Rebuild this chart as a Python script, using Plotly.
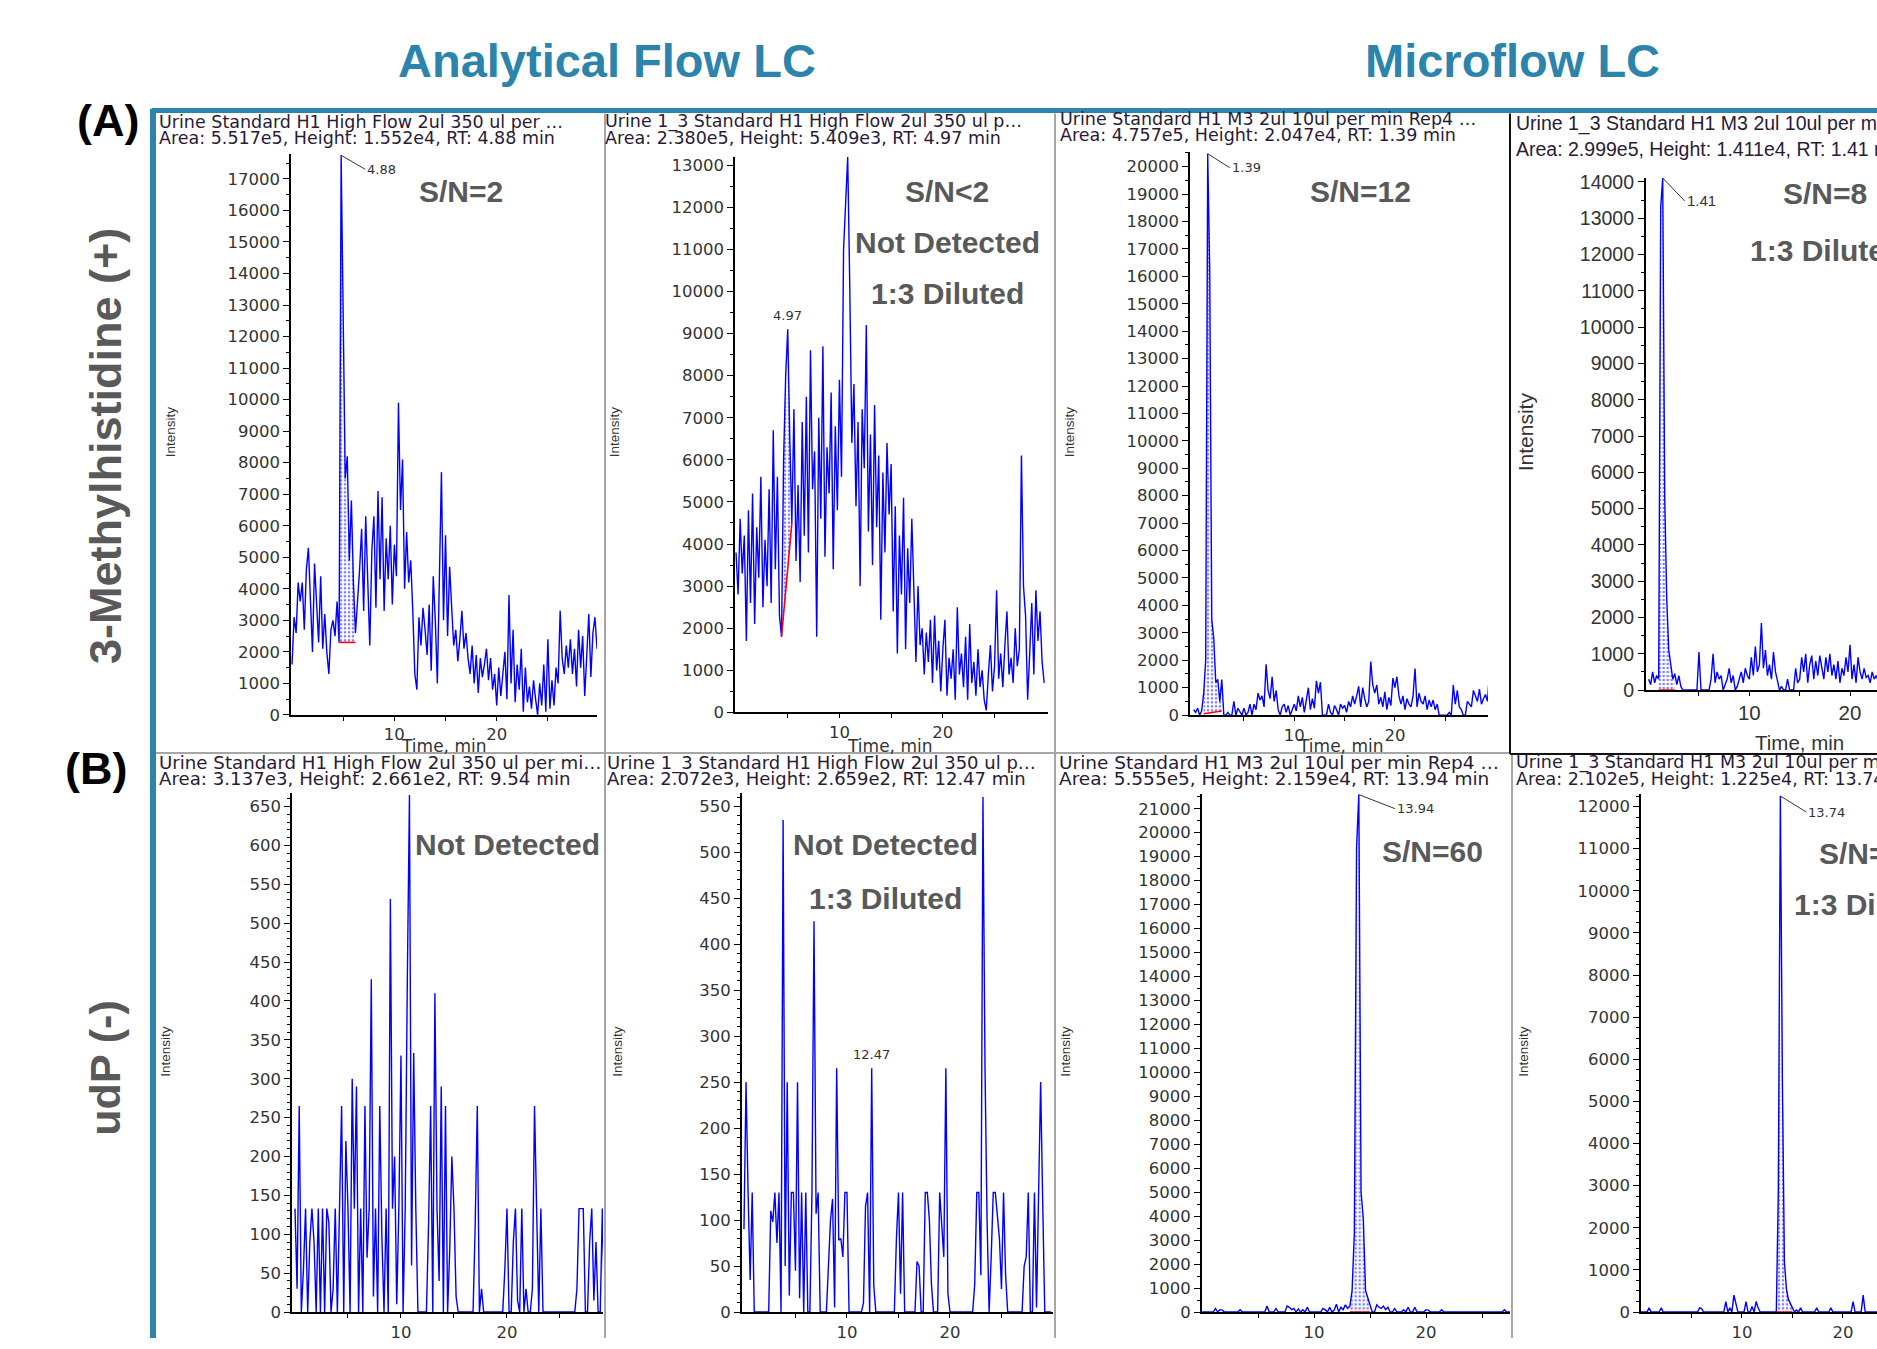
import plotly.graph_objects as go

W, H = 1877, 1349
SCAN_MIN = 0.2  # spacing of the digitised scans (minutes)

# ---------------- data (intensity, counts per second) ----------------
a1_intensity = [
    1600, 3100, 2600, 4200, 3600, 4200, 2700, 4600, 5300, 3700,
    2000, 4800, 3600, 2300, 4400, 2100, 3200, 2000, 1300, 2700,
    3000, 2500, 3600, 2300, 17750, 13000, 7500, 8200, 4900, 6800,
    4200, 2600, 3500, 4600, 5900, 3300, 6300, 4300, 2200, 5200,
    6300, 3400, 7100, 4300, 6900, 3300, 5600, 4300, 6000, 3500,
    5400, 4400, 9900, 6500, 8100, 4000, 5800, 4200, 4900, 3300,
    1300, 800, 3100, 2200, 3400, 2700, 1900, 3500, 1400, 4400,
    3000, 1000, 4900, 7700, 3000, 5700, 2500, 4700, 3400, 2200,
    2700, 1700, 2400, 3300, 2100, 2600, 1800, 1300, 2200, 1000,
    1900, 700, 1800, 1200, 1600, 2100, 1100, 1800, 800, 1300,
    300, 1500, 600, 1200, 2000, 500, 3800, 1000, 2700, 400,
    1600, 800, 2100, 100, 1500, 400, 900, 200, 1100, 500,
    0, 1000, 300, 1600, 100, 2400, 200, 1100, 300, 1500,
    1000, 3300, 1800, 1300, 2200, 1500, 2400, 1300, 2100, 900,
    2700, 1500, 2500, 600, 1900, 3200, 1200, 2600, 3100, 2100,
]
a2_intensity = [
    3800, 2800, 4600, 3300, 4200, 1700, 4800, 2600, 5200, 2100,
    4400, 3200, 5600, 2500, 4100, 3000, 5300, 2600, 6700, 3400,
    5600, 2300, 1800, 6000, 8000, 9100, 6500, 4500, 7200, 3600,
    5400, 3100, 6900, 4200, 7500, 3800, 8600, 5300, 6200, 1800,
    7000, 4600, 8700, 3700, 6300, 5200, 7600, 3400, 6800, 4800,
    7900, 5600, 11000, 12200, 13200, 10100, 6400, 7800, 4900, 6900,
    3000, 7200, 5800, 9200, 4300, 6600, 3500, 7300, 4400, 6100,
    2200, 5700, 3800, 6400, 4700, 5900, 2400, 4900, 1400, 4200,
    2800, 5100, 1500, 3900, 2600, 4600, 3100, 1200, 3000, 1600,
    2000, 900, 1900, 1200, 2200, 700, 2300, 1000, 1700, 500,
    1500, 2200, 400, 1300, 800, 1500, 300, 2500, 900, 1400,
    600, 1800, 300, 2100, 700, 1200, 400, 1500, 600, 1000,
    300, 50, 900, 1600, 500, 1100, 2900, 800, 1400, 600,
    1600, 2400, 900, 1300, 700, 2000, 1100, 1500, 6100, 3000,
    2300, 300, 1400, 2600, 900, 2900, 1700, 2400, 1200, 700,
]
a3_intensity = [
    200, 100, 250, 0, 150, 800, 2000, 20470, 16200, 3500,
    2800, 1200, 1300, 500, 1300, 0, 0, 100, 0, 0,
    500, 0, 250, 100, 0, 250, 0, 100, 400, 0,
    400, 200, 800, 550, 700, 300, 1850, 900, 600, 1400,
    500, 900, 200, 0, 300, 400, 100, 350, 0, 200,
    400, 150, 700, 300, 650, 100, 500, 1000, 200, 600,
    250, 1250, 800, 1200, 0, 0, 0, 400, 100, 0,
    350, 200, 0, 400, 250, 350, 100, 500, 300, 700,
    400, 700, 1050, 300, 1000, 600, 300, 500, 1950, 1100,
    800, 1100, 400, 650, 300, 850, 200, 650, 350, 1350,
    1000, 1400, 700, 400, 700, 200, 600, 400, 300, 700,
    1700, 300, 800, 500, 400, 700, 200, 550, 300, 550,
    200, 400, 0, 0, 0, 0, 0, 100, 0, 1100,
    400, 900, 300, 200, 0, 0, 500, 400, 300, 900,
    700, 500, 950, 400, 600, 750, 500, 1600, 300, 200,
]
a4_intensity = [
    300, 150, 500, 200, 400, 300, 13300, 14110, 5300, 2500,
    1100, 700, 300, 450, 150, 400, 100, 0, 0, 0,
    0, 0, 0, 0, 0, 1050, 0, 0, 0, 0,
    0, 300, 1000, 200, 500, 300, 400, 0, 150, 300,
    600, 200, 400, 0, 100, 300, 500, 200, 600, 400,
    300, 900, 400, 1200, 500, 700, 1850, 600, 1100, 400,
    700, 300, 1050, 500, 200, 0, 100, 0, 0, 300,
    0, 0, 0, 600, 200, 300, 900, 500, 1000, 200,
    700, 950, 300, 800, 400, 950, 600, 300, 900, 500,
    1000, 400, 700, 300, 800, 200, 600, 400, 900, 500,
    1250, 300, 700, 200, 900, 500, 300, 600, 350, 400,
    200, 500, 300, 400, 250,
]
b1_intensity = [
    133, 30, 265, 0, 55, 133, 0, 90, 133, 90,
    0, 133, 0, 133, 0, 133, 115, 0, 30, 133,
    0, 133, 265, 0, 220, 133, 0, 300, 133, 290,
    0, 133, 0, 265, 70, 133, 428, 20, 133, 0,
    265, 97, 0, 133, 0, 531, 133, 200, 10, 133,
    330, 0, 133, 428, 665, 60, 333, 133, 0, 0,
    0, 0, 0, 110, 265, 0, 410, 133, 40, 290,
    0, 265, 0, 80, 200, 133, 20, 0, 0, 0,
    0, 0, 0, 0, 0, 110, 265, 0, 30, 0,
    0, 0, 0, 0, 0, 0, 0, 0, 0, 55,
    133, 0, 0, 90, 133, 15, 0, 133, 0, 30,
    0, 0, 30, 265, 133, 0, 133, 0, 0, 0,
    0, 0, 0, 0, 0, 0, 0, 0, 0, 0,
    0, 0, 0, 30, 133, 133, 133, 0, 0, 90,
    133, 15, 90, 0, 0, 133, 0, 0, 0, 0,
]
b2_intensity = [
    90, 250, 130, 35, 130, 0, 0, 0, 0, 0,
    0, 0, 0, 110, 98, 130, 75, 130, 0, 535,
    50, 250, 18, 130, 130, 45, 250, 15, 130, 0,
    130, 0, 0, 130, 425, 107, 130, 0, 0, 0,
    0, 50, 100, 123, 5, 265, 78, 80, 60, 130,
    130, 0, 0, 0, 0, 0, 0, 0, 10, 115,
    130, 0, 265, 29, 0, 0, 0, 0, 0, 0,
    0, 0, 0, 0, 80, 130, 20, 130, 0, 0,
    0, 0, 0, 0, 55, 50, 0, 0, 130, 130,
    100, 30, 0, 0, 0, 130, 100, 60, 265, 20,
    0, 0, 0, 0, 0, 0, 0, 0, 0, 0,
    0, 0, 30, 130, 130, 40, 560, 265, 100, 0,
    60, 130, 130, 100, 80, 25, 130, 40, 0, 0,
    0, 0, 0, 0, 0, 0, 50, 60, 130, 0,
    0, 130, 5, 130, 250, 120, 0, 0, 0, 0,
]
b3_intensity = [
    0, 0, 0, 0, 0, 0, 150, 0, 100, 80,
    0, 0, 0, 0, 0, 0, 0, 100, 0, 0,
    0, 0, 0, 0, 0, 0, 0, 0, 0, 250,
    0, 0, 0, 150, 0, 0, 0, 0, 250, 200,
    100, 150, 0, 130, 0, 100, 0, 200, 0, 0,
    0, 0, 0, 0, 150, 100, 0, 200, 0, 80,
    330, 0, 200, 100, 300, 150, 250, 900, 3300, 19400,
    21590, 5000, 3900, 900, 600, 300, 0, 0, 300, 200,
    150, 250, 100, 200, 0, 0, 150, 0, 0, 0,
    100, 0, 200, 0, 0, 200, 0, 0, 0, 0,
    100, 80, 0, 0, 0, 0, 0, 100, 0, 0,
    0, 0, 0, 0, 0, 0, 0, 0, 0, 0,
    0, 0, 0, 0, 0, 0, 0, 0, 0, 0,
    0, 0, 0, 0, 0, 100, 0, 0, 0, 0,
]
b4_intensity = [
    0, 0, 0, 0, 100, 0, 0, 0, 0, 0,
    100, 0, 0, 0, 0, 0, 0, 0, 0, 0,
    0, 0, 0, 0, 0, 0, 0, 0, 0, 100,
    80, 0, 0, 0, 0, 0, 0, 0, 0, 0,
    0, 0, 250, 0, 100, 0, 400, 200, 0, 0,
    0, 0, 250, 0, 0, 130, 0, 250, 100, 0,
    0, 0, 0, 0, 0, 0, 0, 0, 2900, 12250,
    5500, 1200, 550, 300, 200, 100, 0, 50, 0, 100,
    0, 0, 0, 0, 0, 0, 0, 100, 0, 0,
    0, 0, 0, 0, 100, 0, 0, 0, 0, 0,
    0, 0, 0, 0, 0, 250, 0, 0, 0, 0,
    400, 0, 0, 0, 0, 0, 0, 0, 0, 0,
]

# integration windows: [start min, end min, baseline at start, baseline at end]
a1_window = [4.6, 6.2, 2300, 2300]
a2_window = [4.4, 5.4, 1800, 4500]
a3_window = [1.0, 2.8, 50, 150]
a4_window = [1.0, 2.6, 0, 0]
b3_window = [13.2, 15.0, 0, 0]
b4_window = [13.4, 15.0, 0, 0]

# peak labels: [time, intensity, label]
a1_peak = [4.8, 17750, "4.88"]
a2_peak = [5.0, 9100, "4.97"]
a3_peak = [1.4, 20470, "1.39"]
a4_peak = [1.4, 14110, "1.41"]
b2_peak = [12.4, 265, "12.47"]
b3_peak = [14.0, 21590, "13.94"]
b4_peak = [13.8, 12250, "13.74"]

headers = {
    "a1": ["Urine Standard H1 High Flow 2ul 350 ul per …", "Area: 5.517e5, Height: 1.552e4, RT: 4.88 min"],
    "a2": ["Urine 1_3 Standard H1 High Flow 2ul 350 ul p…", "Area: 2.380e5, Height: 5.409e3, RT: 4.97 min"],
    "a3": ["Urine Standard H1 M3 2ul 10ul per min Rep4 …", "Area: 4.757e5, Height: 2.047e4, RT: 1.39 min"],
    "a4": ["Urine 1_3 Standard H1 M3 2ul 10ul per min Rep4", "Area: 2.999e5, Height: 1.411e4, RT: 1.41 min"],
    "b1": ["Urine Standard H1 High Flow 2ul 350 ul per mi…", "Area: 3.137e3, Height: 2.661e2, RT: 9.54 min"],
    "b2": ["Urine 1_3 Standard H1 High Flow 2ul 350 ul p…", "Area: 2.072e3, Height: 2.659e2, RT: 12.47 min"],
    "b3": ["Urine Standard H1 M3 2ul 10ul per min Rep4 …", "Area: 5.555e5, Height: 2.159e4, RT: 13.94 min"],
    "b4": ["Urine 1_3 Standard H1 M3 2ul 10ul per min Rep4", "Area: 2.102e5, Height: 1.225e4, RT: 13.74 min"],
}
x_tick_vals = [5, 10, 15, 20, 25]
x_tick_text = ["", "10", "", "20", ""]

# ---------------- styling / layout ----------------
SMALL = "DejaVu Sans, Verdana, sans-serif"
ARIAL = "Liberation Sans, Arial, sans-serif"
TEAL = "#2C84AD"
GRAYTXT = "#595959"
HDR = "#2a1a36"
TICKC = "#333333"


def px(x):
    return x / W


def py(y):
    return 1 - y / H


panels = [
    dict(k="a1", data=a1_intensity, box=(291, 597, 149.3, 717.5), xr=(-0.1, 29.8), yr=(0, 17780), dt=1000, mn=500,
         win=a1_window, peak=a1_peak, arrow=(24, 14), big=False, hx=157, hy=(116.5, 132.5), hs=17.5),
    dict(k="a2", data=a2_intensity, box=(735, 1048, 151.7, 715), xr=(-0.1, 30.17), yr=(0, 13200), dt=1000, mn=500,
         win=a2_window, peak=a2_peak, arrow=None, big=False, hx=603, hy=(116.5, 132.5), hs=17.5),
    dict(k="a3", data=a3_intensity, box=(1190, 1488, 147.3, 717.7), xr=(-0.36, 29.25), yr=(0, 20520), dt=1000, mn=500,
         win=a3_window, peak=a3_peak, arrow=(22, 14), big=False, hx=1058, hy=(114, 130), hs=17.5),
    dict(k="a4", data=a4_intensity, box=(1645.7, 1877, 173.3, 692.3), xr=(-0.29, 22.68), yr=(0, 14110), dt=1000, mn=500,
         win=a4_window, peak=a4_peak, arrow=(22, 23), big=True, hx=1514, hy=(118, 144), hs=19.5),
    dict(k="b1", data=b1_intensity, box=(292, 603, 797, 1322.7), xr=(-0.28, 29.06), yr=(0, 667), dt=50, mn=10,
         win=None, peak=None, arrow=None, big=False, hx=157, hy=(766, 782), hs=18.2),
    dict(k="b2", data=b2_intensity, box=(741.7, 1053, 797, 1322.7), xr=(-0.22, 30.0), yr=(0, 564), dt=50, mn=10,
         win=None, peak=b2_peak, arrow=None, big=False, hx=605, hy=(766, 782), hs=18),
    dict(k="b3", data=b3_intensity, box=(1201.7, 1510, 798, 1322.7), xr=(-0.03, 27.5), yr=(0, 21600), dt=1000, mn=500,
         win=b3_window, peak=b3_peak, arrow=(36, 14), big=False, hx=1057, hy=(766, 782), hs=18.5),
    dict(k="b4", data=b4_intensity, box=(1641, 1877, 798, 1322.7), xr=(0, 23.37), yr=(0, 12290), dt=1000, mn=250,
         win=b4_window, peak=b4_peak, arrow=(26, 16), big=False, hx=1514, hy=(766, 782), hs=17.5),
]

fig = go.Figure()
annotations = []
layout_axes = {}


def add_text(text, x, y, size, color, family, weight="normal", xanchor="center", angle=0, xref="paper",
             yref="paper", **kw):
    annotations.append(dict(text=text, x=x, y=y, xref=xref, yref=yref, showarrow=False,
                            xanchor=xanchor, yanchor="middle", textangle=angle,
                            font=dict(size=size, color=color, family=family, weight=weight), **kw))


for i, p in enumerate(panels, start=1):
    xa = "x" if i == 1 else f"x{i}"
    ya = "y" if i == 1 else f"y{i}"
    times = [round(j * SCAN_MIN, 2) for j in range(len(p["data"]))]
    l, r, t, b = p["box"]
    tickfam = ARIAL if p["big"] else SMALL
    ticksize = 19.5 if p["big"] else 16.5

    # integration region (dotted fill) and baseline
    if p["win"]:
        t0, t1, b0, b1 = p["win"]
        idx = [j for j, tt in enumerate(times) if t0 - 1e-9 <= tt <= t1 + 1e-9]
        xs = [times[j] for j in idx] + [times[idx[-1]], times[idx[0]]]
        ys = [p["data"][j] for j in idx] + [b1, b0]
        fig.add_trace(go.Scatter(x=xs, y=ys, xaxis=xa, yaxis=ya, mode="lines", line=dict(width=0),
                                 fill="toself", fillcolor="rgba(255,255,255,0)",
                                 fillpattern=dict(shape=".", fgcolor="#0000FF", bgcolor="white",
                                                  size=4, solidity=0.35),
                                 hoverinfo="skip", showlegend=False))
    fig.add_trace(go.Scatter(x=times, y=p["data"], xaxis=xa, yaxis=ya, mode="lines",
                             line=dict(color="#0000FF", width=1.4), showlegend=False))
    if p["win"]:
        t0, t1, b0, b1 = p["win"]
        fig.add_trace(go.Scatter(x=[t0, t1], y=[b0, b1], xaxis=xa, yaxis=ya, mode="lines",
                                 line=dict(color="#FF0000", width=1.6), showlegend=False))

    layout_axes["xaxis" if i == 1 else f"xaxis{i}"] = dict(
        domain=[px(l), px(r)], range=list(p["xr"]), anchor=ya, showline=True, linecolor="black",
        linewidth=1.5, ticks="outside", ticklen=4, tickcolor="black", tickvals=x_tick_vals,
        ticktext=x_tick_text, tickfont=dict(family=tickfam, size=ticksize + (1 if p["big"] else 0), color=TICKC),
        showgrid=False, zeroline=False, fixedrange=True)
    layout_axes["yaxis" if i == 1 else f"yaxis{i}"] = dict(
        domain=[py(b), py(t)], range=list(p["yr"]), anchor=xa, showline=True, linecolor="black",
        linewidth=1.5, ticks="outside", ticklen=6, tickcolor="black", tickmode="linear", tick0=0,
        dtick=p["dt"], tickformat="d", tickfont=dict(family=tickfam, size=ticksize, color=TICKC),
        minor=dict(dtick=p["mn"], tick0=0, ticks="outside", ticklen=3, tickcolor="black"),
        showgrid=False, zeroline=False, fixedrange=True)

    # header lines
    hf = ARIAL if p["big"] else SMALL
    for line, yy in zip(headers[p["k"]], p["hy"]):
        add_text(line, px(p["hx"]), py(yy), p["hs"], HDR, hf, xanchor="left")

    # peak label
    if p["peak"]:
        pt, pv, lab = p["peak"]
        if p["arrow"]:
            ax, ay = p["arrow"]
            annotations.append(dict(text=lab, x=pt, y=pv, xref=xa, yref=ya, showarrow=True, arrowhead=0,
                                    arrowwidth=1, arrowcolor="#333", ax=ax, ay=ay, standoff=0,
                                    xanchor="left", yanchor="middle",
                                    font=dict(size=15 if p["big"] else 13, color="#333",
                                              family=ARIAL if p["big"] else SMALL)))
        else:
            annotations.append(dict(text=lab, x=pt, y=pv, xref=xa, yref=ya, showarrow=False,
                                    yanchor="bottom", yshift=4,
                                    font=dict(size=13, color="#333", family=SMALL)))

# axis titles ("Intensity", "Time, min")
for (x, y) in [(170, 431), (614, 431), (1069, 431), (166, 1059), (618, 1059), (1066, 1059), (1524, 1059)]:
    add_text("Intensity", px(x), py(y), 13.5, "#333", ARIAL, angle=-90)
add_text("Intensity", px(1525), py(431), 21, "#333", ARIAL, angle=-90)
for x in [443, 889, 1340]:
    add_text("Time, min", px(x), py(749), 17, "#333", SMALL)
add_text("Time, min", px(1799), py(745), 20.5, "#333", ARIAL)

# big in-plot notes
notes = [
    ("S/N=2", 461, 187, "center"), ("S/N<2", 947, 187, "center"), ("Not Detected", 947, 239, "center"),
    ("1:3 Diluted", 947, 290, "center"), ("S/N=12", 1360, 187, "center"), ("S/N=8", 1825, 189, "center"),
    ("1:3 Diluted", 1748, 247, "left"), ("Not Detected", 507, 849, "center"),
    ("Not Detected", 885, 849, "center"), ("1:3 Diluted", 885, 904, "center"),
    ("S/N=60", 1432, 856, "center"), ("S/N=", 1817, 858, "left"), ("1:3 Diluted", 1792, 910, "left"),
]
for txt, x, y, anc in notes:
    add_text(txt, px(x), py(y), 30, GRAYTXT, ARIAL, weight="bold", xanchor=anc)

# titles and row labels
add_text("Analytical Flow LC", px(607), py(54), 47, TEAL, ARIAL, weight="bold")
add_text("Microflow LC", px(1512), py(54), 47, TEAL, ARIAL, weight="bold")
add_text("(A)", px(108), py(115), 45, "black", ARIAL, weight="bold")
add_text("(B)", px(96), py(772), 45, "black", ARIAL, weight="bold")
add_text("3-Methylhistidine (+)", px(105), py(445), 45, GRAYTXT, ARIAL, weight="bold", angle=-90)
add_text("udP (-)", px(105), py(1076), 43, GRAYTXT, ARIAL, weight="bold", angle=-90)

# frame lines
shapes = []


def seg(x0, y0, x1, y1, color, width):
    shapes.append(dict(type="line", xref="paper", yref="paper", x0=px(x0), y0=py(y0), x1=px(x1), y1=py(y1),
                       line=dict(color=color, width=width), layer="above"))


seg(605, 108, 605, 1349, "#a6a6a6", 2)
seg(1055, 108, 1055, 1349, "#a6a6a6", 2)
seg(1512, 757, 1512, 1349, "#a6a6a6", 2)
seg(155, 756, 1510, 756, "#a6a6a6", 2)
seg(1510, 108, 1510, 757, "#111111", 2)
seg(1510, 757, 1877, 757, "#111111", 2)
seg(152, 105, 1877, 105, TEAL, 5)
seg(153, 103, 153, 1349, TEAL, 6)

fig.update_layout(
    width=W, height=H, margin=dict(l=0, r=0, t=0, b=0), paper_bgcolor="white", plot_bgcolor="white",
    showlegend=False, annotations=annotations, shapes=shapes, **layout_axes,
)

fig.write_html("out.html", config={"displayModeBar": False},
               post_script="document.body.style.margin='0';document.body.style.overflow='hidden';")
